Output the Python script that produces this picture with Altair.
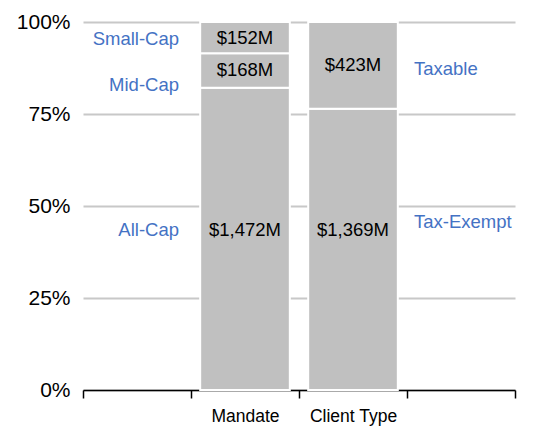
import altair as alt
import pandas as pd

# ---- data ----
mandate_segments = ["All-Cap", "Mid-Cap", "Small-Cap"]
mandate_values = [1472, 168, 152]
client_segments = ["Tax-Exempt", "Taxable"]
client_values = [1369, 423]
x_domain = ["left", "Mandate", "Client Type", "right"]
y_ticks = [0, 0.25, 0.5, 0.75, 1.0]

# ---- build table (stack fractions from values) ----
rows = []
for group, segs, vals in [("Mandate", mandate_segments, mandate_values),
                          ("Client Type", client_segments, client_values)]:
    total = sum(vals)
    cum = 0
    for i, (s, v) in enumerate(zip(segs, vals)):
        rows.append(dict(group=group, segment=s, value=v, order=i,
                         y0=cum / total, y1=(cum + v) / total,
                         label=f"${v:,}M",
                         side="left" if group == "Mandate" else "right"))
        cum += v
df = pd.DataFrame(rows)
df["mid"] = (df["y0"] + df["y1"]) / 2

PLOT_H = 368
# placement of labels (layout, not data)
df["vy"] = df.apply(lambda r: 0.435 if r["order"] == 0 else r["mid"], axis=1)
side_nudge_px = {"Small-Cap": -1, "Mid-Cap": -15, "Taxable": -4}
side_fixed = {"All-Cap": 0.435, "Tax-Exempt": 0.457}
df["sy"] = df.apply(
    lambda r: side_fixed[r["segment"]] if r["segment"] in side_fixed
    else r["mid"] + side_nudge_px[r["segment"]] / PLOT_H, axis=1)

FONT = "Liberation Sans"
BLUE = "#4472C4"

xscale = alt.Scale(domain=x_domain, paddingInner=0, paddingOuter=0)
yscale = alt.Scale(domain=[0, 1])

x_axis = alt.Axis(title=None, tickBand="extent", labelAngle=0,
                  labelExpr="datum.value == 'left' || datum.value == 'right' ? '' : datum.value",
                  domainColor="black", domainWidth=1.5,
                  tickColor="black", tickWidth=1.5, tickSize=8,
                  labelFontSize=17.5, labelColor="black", labelFont=FONT,
                  labelPadding=9, grid=False)
y_axis = alt.Axis(title=None, values=y_ticks, format="%", domain=False,
                  ticks=False, labelFontSize=21, labelFont=FONT,
                  labelColor="black", labelPadding=13,
                  gridColor="#C8C8C8", gridWidth=2)

base = alt.Chart(df)

bars = base.mark_bar(color="#C0C0C0", stroke="white", strokeWidth=2,
                     width=alt.RelativeBandSize(0.83)).encode(
    x=alt.X("group:N", scale=xscale, sort=x_domain, axis=x_axis),
    y=alt.Y("y0:Q", scale=yscale, axis=y_axis),
    y2="y1:Q",
)

values = base.mark_text(fontSize=18.5, font=FONT, color="black").encode(
    x=alt.X("group:N", scale=xscale, axis=x_axis),
    y=alt.Y("vy:Q", scale=yscale, axis=y_axis),
    text="label:N",
)

left_labels = base.transform_filter("datum.side == 'left'").mark_text(
    fontSize=18.5, font=FONT, color=BLUE, align="right", dx=-12).encode(
    x=alt.X("side:N", scale=xscale, bandPosition=1, axis=x_axis),
    y=alt.Y("sy:Q", scale=yscale, axis=y_axis),
    text="segment:N",
)

right_labels = base.transform_filter("datum.side == 'right'").mark_text(
    fontSize=18.5, font=FONT, color=BLUE, align="left", dx=7).encode(
    x=alt.X("side:N", scale=xscale, bandPosition=0, axis=x_axis),
    y=alt.Y("sy:Q", scale=yscale, axis=y_axis),
    text="segment:N",
)

chart = alt.layer(bars, values, left_labels, right_labels).properties(
    width=432, height=368,
    background="white",
    autosize=alt.AutoSizeParams(type="none"),
    padding={"left": 83, "top": 22, "right": 24, "bottom": 36},
).configure_view(stroke="transparent", strokeWidth=0).configure_axisX(grid=False)

chart.save("out.html", embed_options={"renderer": "svg", "actions": False})
